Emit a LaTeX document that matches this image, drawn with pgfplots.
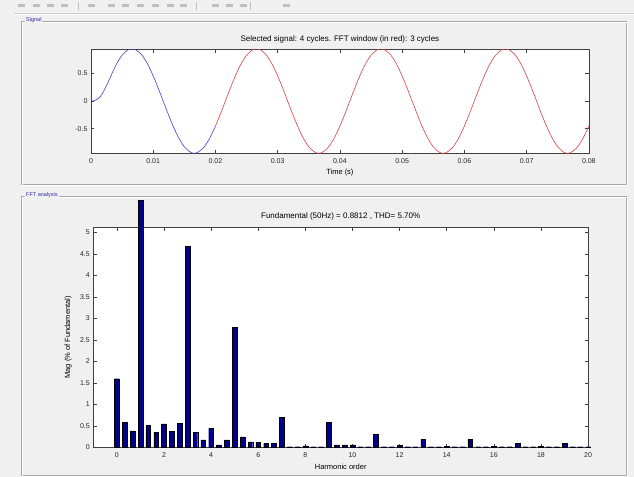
\documentclass[border=0pt]{standalone}
\usepackage{pgfplots}
\pgfplotsset{compat=1.18}
\usepackage{fontspec}
\setmainfont{Liberation Sans}
\definecolor{panelbg}{HTML}{F0F0F0}
\definecolor{etch}{HTML}{A8A8A8}
\definecolor{mnavy}{rgb}{0,0,0.55}
\definecolor{paneltxt}{HTML}{2A2AA0}
\definecolor{sigblue}{rgb}{0.25,0.25,0.85}
\definecolor{sigred}{rgb}{0.88,0.25,0.25}
\pgfplotsset{
  mstyle/.style={scale only axis, axis background/.style={fill=white},
    axis line style={draw=black!75, line width=0.6pt},
    tick align=inside, major tick length=3.5pt,
    tick style={black!75, line width=0.5pt},
    scaled x ticks=false, scaled y ticks=false,
    ticklabel style={font=\fontsize{7}{8}\selectfont, text=black!85},
    xticklabel style={anchor=center, yshift=-7.5pt},
    /pgf/number format/assume math mode=true,
    every axis title/.style={font=\fontsize{8}{9}\selectfont, anchor=center},
    every axis x label/.style={font=\fontsize{7.5}{9}\selectfont, anchor=center},
    every axis y label/.style={font=\fontsize{7.5}{9}\selectfont, anchor=center, rotate=90},
  },
}
\begin{document}
\begin{tikzpicture}[x=1pt,y=1pt]
% window background
\fill[panelbg] (0,0) rectangle (634,477);
% toolbar
\foreach \px in {18,33,47,61,88,108,122,137,152,167,180,212,226,240,283}
  \fill[black!25] (\px,470) rectangle ++(7,2.5);
\foreach \px in {78,196,250}
  \draw[black!25] (\px,467) -- (\px,475);
\draw[black!20] (14,464) -- (634,464);
\draw[white] (14,463) -- (634,463);
% panels
\draw[etch] (21,456) rectangle (626,293);
\draw[white] (22,455) rectangle (627,292);
\draw[etch] (21,281) rectangle (626,2);
\draw[white] (22,280) rectangle (627,1);
\node[fill=panelbg, inner sep=1pt, anchor=west, text=paneltxt, font=\fontsize{5.5}{6}\selectfont] at (25,456.5) {Signal};
\node[fill=panelbg, inner sep=1pt, anchor=west, text=paneltxt, font=\fontsize{5.5}{6}\selectfont] at (25,281.5) {FFT analysis};

% signal axis
\begin{axis}[mstyle, at={(91pt,323.7pt)}, anchor=south west,
  width=498pt, height=104pt,
  xmin=0, xmax=0.08, ymin=-0.945, ymax=0.935,
  xtick={0,0.01,0.02,0.03,0.04,0.05,0.06,0.07,0.08},
  xticklabels={0,0.01,0.02,0.03,0.04,0.05,0.06,0.07,0.08},
  ytick={-0.5,0,0.5}, yticklabels={-0.5,0,0.5},
  title={Selected signal: 4 cycles. FFT window (in red): 3 cycles},
  title style={at={(axis description cs:0.5,1.099)}},
  xlabel={Time (s)},
  xlabel style={at={(axis description cs:0.5,-0.19)}},
]
\addplot[sigblue, line width=0.6pt, smooth] coordinates {
(0,0) (0.0005,0.005) (0.001,0.03) (0.0015,0.08) (0.002,0.17) (0.0025,0.28)
(0.003,0.40) (0.004,0.647) (0.005,0.828) (0.006,0.928) (0.0066,0.945)
(0.007,0.938) (0.008,0.855) (0.009,0.689) (0.010,0.455) (0.011,0.177)
(0.012,-0.118) (0.013,-0.402) (0.014,-0.647) (0.015,-0.828) (0.016,-0.928)
(0.0166,-0.945) (0.017,-0.938) (0.018,-0.855) (0.019,-0.689) (0.020,-0.455)};
\addplot[sigred, line width=0.6pt, smooth] coordinates {
(0.020,-0.455) (0.021,-0.177) (0.022,0.118) (0.023,0.402) (0.024,0.647)
(0.025,0.828) (0.026,0.928) (0.0266,0.945) (0.027,0.938) (0.028,0.855)
(0.029,0.689) (0.030,0.455) (0.031,0.177) (0.032,-0.118) (0.033,-0.402)
(0.034,-0.647) (0.035,-0.828) (0.036,-0.928) (0.0366,-0.945) (0.037,-0.938)
(0.038,-0.855) (0.039,-0.689)
(0.040,-0.455) (0.041,-0.177) (0.042,0.118) (0.043,0.402) (0.044,0.647)
(0.045,0.828) (0.046,0.928) (0.0466,0.945) (0.047,0.938) (0.048,0.855)
(0.049,0.689) (0.050,0.455) (0.051,0.177) (0.052,-0.118) (0.053,-0.402)
(0.054,-0.647) (0.055,-0.828) (0.056,-0.928) (0.0566,-0.945) (0.057,-0.938)
(0.058,-0.855) (0.059,-0.689)
(0.060,-0.455) (0.061,-0.177) (0.062,0.118) (0.063,0.402) (0.064,0.647)
(0.065,0.828) (0.066,0.928) (0.0666,0.945) (0.067,0.938) (0.068,0.855)
(0.069,0.689) (0.070,0.455) (0.071,0.177) (0.072,-0.118) (0.073,-0.402)
(0.074,-0.647) (0.075,-0.828) (0.076,-0.928) (0.0766,-0.945) (0.077,-0.938)
(0.078,-0.855) (0.079,-0.689) (0.080,-0.455)};
\end{axis}

% FFT axis
\begin{axis}[mstyle, at={(93.3pt,29.3pt)}, anchor=south west,
  width=495pt, height=220.4pt,
  xmin=-1, xmax=20, ymin=0, ymax=5.12,
  xtick={0,2,4,6,8,10,12,14,16,18,20},
  xticklabels={0,2,4,6,8,10,12,14,16,18,20},
  ytick={0,0.5,1,1.5,2,2.5,3,3.5,4,4.5,5},
  yticklabels={0,0.5,1,1.5,2,2.5,3,3.5,4,4.5,5},
  title={Fundamental (50Hz) = 0.8812 , THD= 5.70\%},
  title style={at={(axis description cs:0.5,1.051)}},
  xlabel={Harmonic order},
  xlabel style={at={(axis description cs:0.5,-0.0876)}},
  ylabel={Mag (\% of Fundamental)},
  ylabel style={at={(axis description cs:-0.0505,0.5)}},
  clip=false,
]
\addplot[ybar, bar width=0.2, fill=mnavy, draw=black, line width=0.4pt] coordinates {
(0,1.60) (0.3333,0.59) (0.6667,0.39) (1,5.74) (1.3333,0.51) (1.6667,0.35)
(2,0.55) (2.3333,0.37) (2.6667,0.56) (3,4.67) (3.3333,0.35) (3.6667,0.18)
(4,0.45) (4.3333,0.06) (4.6667,0.18) (5,2.80) (5.3333,0.25) (5.6667,0.13)
(6,0.12) (6.3333,0.09) (6.6667,0.09) (7,0.71) (7.3333,0.02) (7.6667,0.02)
(8,0.04) (8.3333,0.02) (8.6667,0.02) (9,0.58) (9.3333,0.06) (9.6667,0.06)
(10,0.06) (10.3333,0.02) (10.6667,0.02) (11,0.31) (11.3333,0.02) (11.6667,0.02)
(12,0.05) (12.3333,0.02) (12.6667,0.02) (13,0.19) (13.3333,0.02) (13.6667,0.02)
(14,0.03) (14.3333,0.02) (14.6667,0.02) (15,0.19) (15.3333,0.02) (15.6667,0.02)
(16,0.03) (16.3333,0.02) (16.6667,0.02) (17,0.10) (17.3333,0.02) (17.6667,0.02)
(18,0.03) (18.3333,0.02) (18.6667,0.02) (19,0.10) (19.3333,0.02) (19.6667,0.02)
(20,0.02)};
\end{axis}
\end{tikzpicture}
\end{document}
